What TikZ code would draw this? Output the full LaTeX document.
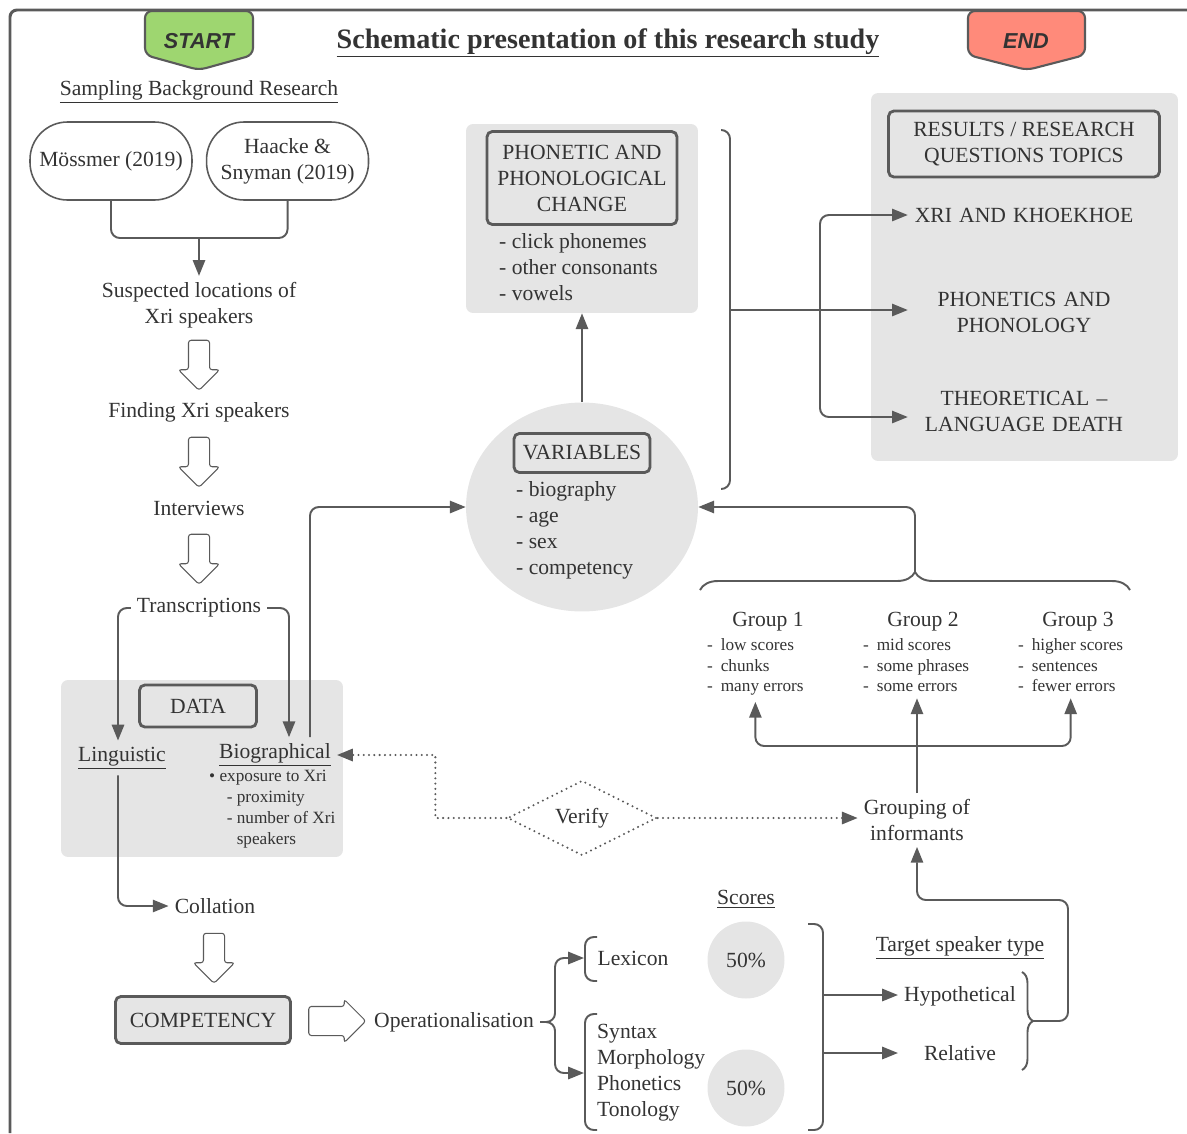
\documentclass[tikz,border=0pt]{standalone}
\usepackage{fontspec}
\setmainfont{Liberation Serif}
\newfontfamily\badgefont{Liberation Sans}
\usepackage{tikz}
\usetikzlibrary{positioning}
\usetikzlibrary{arrows.meta, shapes.arrows, shapes.geometric, decorations.pathreplacing}
\usepackage{xcolor}
\definecolor{ink}{RGB}{51,51,51}
\definecolor{wire}{RGB}{90,90,90}
\definecolor{panel}{RGB}{229,229,229}
\definecolor{startgreen}{RGB}{158,214,112}
\definecolor{endred}{RGB}{255,138,122}

\begin{document}
\begin{tikzpicture}[x=0.02cm, y=-0.02cm,
  every node/.style = {text=ink, font=\fontsize{12.3}{14.8}\selectfont, align=center},
  box/.style = {draw=wire, line width=1.6pt, rounded corners=3pt},
  pill/.style = {draw=wire, line width=0.9pt, rounded corners=0.75cm, minimum width=3.24cm, minimum height=1.56cm},
  bg/.style = {fill=panel, rounded corners=4pt},
  conn/.style = {draw=wire, line width=1.1pt, rounded corners=5pt},
  arr/.style = {conn, -{Triangle[length=9pt, width=7pt]}},
  dotline/.style = {draw=wire, line width=1.3pt, line cap=round, dash pattern=on 0pt off 3pt},
  dots/.style = {dotline, -{Triangle[length=9pt, width=7pt]}},
  hollow/.style = {single arrow, draw=wire, line width=0.6pt, fill=white, inner xsep=0pt, inner ysep=0.2cm,
                   rounded corners=1.5pt, single arrow head extend=0.2cm, minimum height=1cm},
  small/.style = {font=\fontsize{9.8}{11.9}\selectfont, align=left},
  list/.style = {align=left},
  topic/.style = {text width=4.4cm, align=center},
  badge/.style = {draw=wire, line width=1.2pt, rounded corners=4pt},
  curly/.style = {draw=wire, line width=1.1pt, sharp corners, decorate, decoration={brace, amplitude=#1}}]

\useasboundingbox (0,0) rectangle (1187,1133);
\draw[wire, line width=1.7pt, rounded corners=4pt] (1187,10) -- (10,10) -- (10,1133);

% start and end
\draw[badge, fill=startgreen] (145,11) -- (253,11) -- (253,55) -- (199,70) -- (145,55) -- cycle;
\node (start) at (199,41) {\badgefont\bfseries\itshape START};
\draw[badge, fill=endred] (968,11) -- (1085,11) -- (1085,55) -- (1027,70) -- (968,55) -- cycle;
\node (end) at (1026,41) {\badgefont\bfseries\itshape END};
\node (title) at (608,43) {\fontsize{16}{19}\selectfont\bfseries\underline{Schematic presentation of this research study}};

% grey panels
\node[bg, minimum width=4.64cm, minimum height=3.78cm] (phonbg) at (582,218.5) {};
\node[bg, minimum width=6.14cm, minimum height=7.36cm] (resbg) at (1024.5,277) {};
\node[bg, minimum width=5.64cm, minimum height=3.54cm] (databg) at (202,768.5) {};
\node[ellipse, fill=panel, minimum width=4.64cm, minimum height=4.18cm, inner sep=0pt] (var) at (582,507) {};

% sampling
\node (sampling) at (199,92) {\underline{Sampling Background Research}};
\node[pill] (moss) at (111,161) {Mössmer (2019)};
\node[pill, right=0.26cm of moss] (haacke) {Haacke \&\\Snyman (2019)};
\node (suspected) at (199,305) {Suspected locations of\\Xri speakers};
\coordinate (join) at (199,238);
\draw[conn] (moss.south) |- (join);
\draw[conn] (haacke.south) |- (join);
\draw[arr] (join) -- (suspected.north);

\node[hollow, rotate=-90] (down1) at (199,360) {};
\node (finding) at (199,412) {Finding Xri speakers};
\node[hollow, rotate=-90] (down2) at (199,457) {};
\node (interviews) at (199,508) {Interviews};
\node[hollow, rotate=-90] (down3) at (199,554) {};
\node (transcr) at (199,608) {Transcriptions};

% data
\node[box, minimum width=2.34cm, minimum height=0.84cm] (data) at (198,706) {DATA};
\node (ling) at (122,758) {\underline{Linguistic}};
\node (bio) at (275,755) {\underline{Biographical}};
\node[small, anchor=north west] (biolist) at (203,764) {\textbullet\ exposure to Xri\\\hspace*{10pt}- proximity\\\hspace*{10pt}- number of Xri\\\hspace*{15.7pt}speakers};
\draw[arr] (transcr.west) -| ([xshift=-0.08cm]ling.north);
\draw[arr] (transcr.east) -| ([xshift=0.28cm]bio.north);
\draw[arr] ([xshift=0.7cm]bio.north) |- (var.west);

% competency
\node (coll) at (215,906) {Collation};
\draw[arr] ([xshift=-0.08cm]ling.south) |- (coll.west);
\node[hollow, rotate=-90] (down4) at (214,953) {};
\node[box, fill=panel, minimum width=3.5cm, minimum height=0.94cm] (comp) at (203,1020) {COMPETENCY};
\node[hollow, minimum height=1.14cm, inner ysep=0.28cm, single arrow head extend=0.14cm] (right1) at (330,1021) {};
\node (oper) at (454,1022) {Operationalisation};

% scores
\node (scores) at (746,899) {\underline{Scores}};
\draw[conn] (597,937) -- (585,937) -- (585,981) -- (597,981);
\draw[conn] (597,1014) -- (585,1014) -- (585,1130) -- (597,1130);
\coordinate (lexin) at (584,958);
\coordinate (synin) at (584,1073);
\draw[arr] (oper.east) -- ++(15,0) |- (lexin);
\draw[arr] (oper.east) -- ++(15,0) |- (synin);
\node (lex) at (633,958) {Lexicon};
\node[list, anchor=north west] (synlist) at (591,1018) {Syntax\\Morphology\\Phonetics\\Tonology};
\node[circle, fill=panel, minimum size=1.54cm, inner sep=0pt] (pct1) at (746,960) {50\%};
\node[circle, fill=panel, minimum size=1.54cm, inner sep=0pt] (pct2) at (746,1088) {50\%};
\draw[conn] (808,924) -- (823,924) -- (823,1130) -- (808,1130);
\coordinate (sc1) at (823,995);
\coordinate (sc2) at (823,1053);

% target speaker
\node (target) at (960,948) {\underline{Target speaker type}};
\node (hypo) at (960,996) {Hypothetical};
\node (rel) at (960,1053) {Relative};
\draw[arr] (sc1) -- (hypo.west |- sc1);
\draw[arr] (sc2) -- (hypo.west |- sc2);
\draw[curly=0.22cm] (1022,972) -- (1022,1070);
\coordinate (ttip) at (1033,1021);

% grouping
\node (group) at (917,820) {Grouping of\\informants};
\draw[arr] (ttip) -| (1068,900) -| (group.south);
\node[diamond, aspect=2, dotline, minimum width=2.98cm, minimum height=1.5cm, inner sep=0pt] (verify) at (582,818) {Verify};
\draw[dots] (verify.west) -- ++(-71,0) |- (bio.east);
\draw[dots] (verify.east) -- (group.west |- verify.east);

\node (g1) at (768,622) {Group 1};
\node (g2) at (923,622) {Group 2};
\node (g3) at (1078,622) {Group 3};
\node[small, anchor=north west] (g1list) at (701,632) {-\hspace{4.5pt}low scores\\-\hspace{4.5pt}chunks\\-\hspace{4.5pt}many errors};
\node[small, anchor=north west] (g2list) at (857,632) {-\hspace{4.5pt}mid scores\\-\hspace{4.5pt}some phrases\\-\hspace{4.5pt}some errors};
\node[small, anchor=north west] (g3list) at (1012,632) {-\hspace{4.5pt}higher scores\\-\hspace{4.5pt}sentences\\-\hspace{4.5pt}fewer errors};
\coordinate (gsplit) at (917,746);
\draw[conn] (group) -- (gsplit);
\draw[arr] (gsplit) -| (g1list);
\draw[arr] (gsplit) -- (gsplit |- g2list.south);
\draw[arr] (gsplit) -| (g3list);
\draw[curly=0.36cm] (700,590) -- (1130,590);
\coordinate (gtip) at (915,572);
\draw[arr] (gtip) |- (var.east);

% variables
\node[box, minimum width=2.72cm, minimum height=0.78cm] (varbox) at (582,453) {VARIABLES};
\node[list, anchor=north west] (varlist) at (510,475) {- biography\\- age\\- sex\\- competency};

% phonetic change
\node[box, minimum width=3.8cm, minimum height=1.86cm] (phonbox) at (582,178) {PHONETIC AND\\PHONOLOGICAL\\CHANGE};
\node[list, anchor=north west] (phonlist) at (493,227) {- click phonemes\\- other consonants\\- vowels};
\draw[arr] (var) -- (phonbg);
\draw[conn] (722,130) -- (730,130) -- (730,489) -- (722,489);
\coordinate (brk) at (730,310);
\coordinate (fork) at (820,310);

% results
\node[box, minimum width=5.42cm, minimum height=1.32cm] (resbox) at (1024,144) {RESULTS / RESEARCH\\QUESTIONS TOPICS};
\node[topic] (xri) at (1024,215) {XRI AND KHOEKHOE};
\node[topic] (phonol) at (1024,312) {PHONETICS AND\\PHONOLOGY};
\node[topic] (theo) at (1024,411) {THEORETICAL --\\LANGUAGE DEATH};
\draw[conn] (brk) -- (fork);
\draw[arr] (fork) |- (xri.west |- 0,215);
\draw[arr] (fork) -- (phonol.west |- fork);
\draw[arr] (fork) |- (theo.west |- 0,417);
\end{tikzpicture}
\end{document}
